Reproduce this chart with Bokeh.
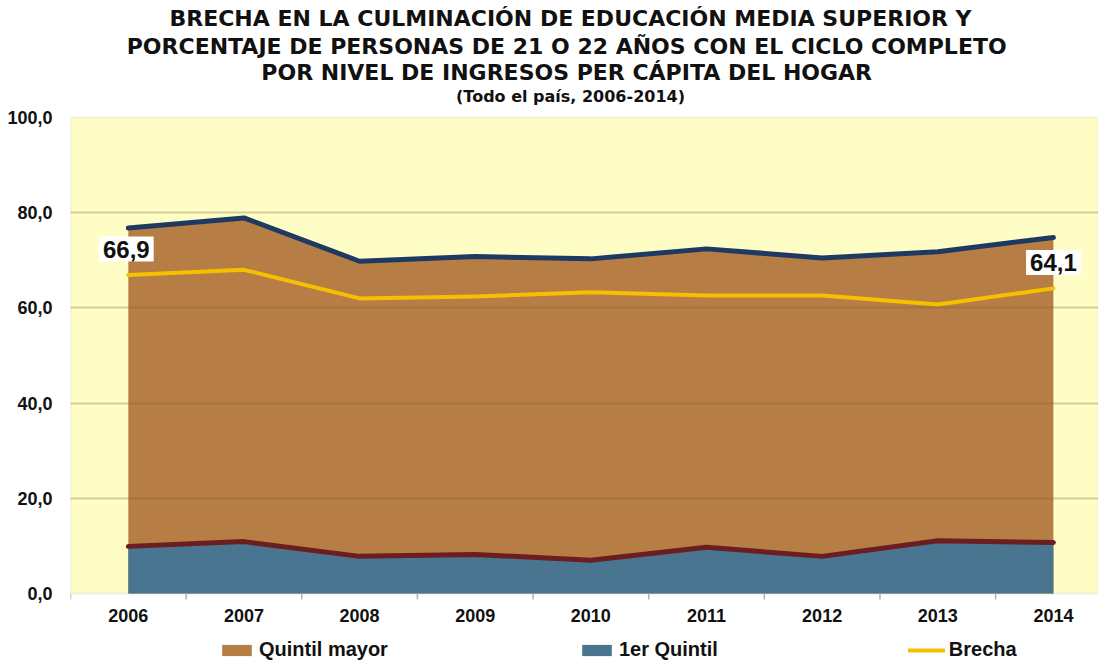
from bokeh.plotting import figure
from bokeh.models import (Range1d, FixedTicker, CustomJSTickFormatter,
                          Legend, LegendItem, Label, BoxAnnotation)
from bokeh.core.properties import value
from bokeh.embed import file_html
from bokeh.resources import INLINE

# ---- data ----
years = ["2006", "2007", "2008", "2009", "2010", "2011", "2012", "2013", "2014"]
quintil_mayor = [76.8, 78.9, 69.8, 70.8, 70.3, 72.4, 70.5, 71.8, 74.8]
primer_quintil = [9.9, 10.9, 7.8, 8.2, 7.0, 9.7, 7.8, 11.1, 10.7]
brecha = [66.9, 68.0, 62.0, 62.4, 63.3, 62.6, 62.6, 60.7, 64.1]
y_ticks = [0, 20, 40, 60, 80, 100]

title_lines = [
    "BRECHA EN LA CULMINACIÓN DE EDUCACIÓN MEDIA SUPERIOR Y",
    "PORCENTAJE DE PERSONAS DE  21 O 22 AÑOS CON EL CICLO COMPLETO",
    "POR  NIVEL DE INGRESOS PER CÁPITA DEL HOGAR",
]
subtitle = "(Todo el país, 2006-2014)"

xs = [i + 0.5 for i in range(len(years))]
bounds = list(range(len(years) + 1))

BROWN = "#B67D44"
BLUE = "#4A7590"
NAVY = "#1F3A62"
DARKRED = "#6B1D1F"
YELLOW = "#F5C000"
PLOT_BG = "#FFFDC6"

# the frame spans the whole figure height; the chart area is 0..100
FRAME_H = 663
PX_PER_UNIT = 476 / 100
Y_TOP = 100 + 117 / PX_PER_UNIT
Y_BOTTOM = -70 / PX_PER_UNIT
p = figure(frame_width=1028, frame_height=FRAME_H,
           x_range=Range1d(0, 8.89), y_range=Range1d(Y_BOTTOM, Y_TOP),
           x_axis_location=None,
           output_backend="svg", toolbar_location=None,
           min_border_left=70, min_border_right=0, min_border_top=0,
           min_border_bottom=0,
           background_fill_color="white", border_fill_color="white",
           outline_line_color=None)

p.add_layout(BoxAnnotation(bottom=0, top=100, fill_color=PLOT_BG, fill_alpha=1,
                           line_color="#cfcfc6", line_width=2, level="underlay"))

# titles (screen units, inside the frame above the chart area)
for line, y_px in zip(title_lines, [18, 46, 72]):
    p.add_layout(Label(x=500, y=FRAME_H - y_px, x_units="screen", y_units="screen",
                       text=line, text_align="center", text_baseline="middle",
                       text_font="DejaVu Sans", text_font_style="bold",
                       text_font_size="22px", text_color="#111111"))
p.add_layout(Label(x=500, y=FRAME_H - 96, x_units="screen", y_units="screen",
                   text=subtitle, text_align="center", text_baseline="middle",
                   text_font="DejaVu Sans", text_font_style="bold",
                   text_font_size="16px", text_color="#111111"))

# areas
r_mayor = p.varea(x=xs, y1=0, y2=quintil_mayor, fill_color=BROWN)
r_primer = p.varea(x=xs, y1=0, y2=primer_quintil, fill_color=BLUE)

# lines
p.line(xs, quintil_mayor, line_color=NAVY, line_width=5, line_join="round", line_cap="round")
p.line(xs, primer_quintil, line_color=DARKRED, line_width=5, line_join="round", line_cap="round")
r_brecha = p.line(xs, brecha, line_color=YELLOW, line_width=4, line_join="round", line_cap="round")

# value labels
for idx, xo in ((0, -2), (len(years) - 1, 0)):
    p.add_layout(Label(x=xs[idx], y=brecha[idx], x_offset=xo, y_offset=26,
                       text=f"{brecha[idx]:.1f}".replace(".", ","),
                       text_align="center", text_baseline="middle",
                       text_font="Liberation Sans", text_font_style="bold",
                       text_font_size="24px", text_color="#111111",
                       background_fill_color="white", padding=4))

# category axis: tick marks between categories and year labels
p.segment(x0=bounds, x1=bounds, y0=0, y1=-6 / PX_PER_UNIT,
          line_color="#b0b0b0", line_width=1.5)
p.text(x=xs, y=[0] * len(xs), text=years, y_offset=22,
       text_align="center", text_baseline="middle",
       text_font=value("Liberation Sans"), text_font_style="bold",
       text_font_size="18px", text_color="#111111")

# y axis
p.yaxis.ticker = FixedTicker(ticks=y_ticks)
p.yaxis.formatter = CustomJSTickFormatter(code="return tick.toFixed(1).replace('.', ',');")
p.yaxis.major_tick_out = 0
p.yaxis.major_tick_in = 0
p.yaxis.minor_tick_line_color = None
p.yaxis.major_label_standoff = 18
p.yaxis.axis_line_color = None
p.yaxis.major_label_text_font = "Liberation Sans"
p.yaxis.major_label_text_font_style = "bold"
p.yaxis.major_label_text_font_size = "18px"
p.yaxis.major_label_text_color = "#111111"

p.xgrid.grid_line_color = None
p.ygrid.ticker = FixedTicker(ticks=y_ticks[1:-1])
p.ygrid.grid_line_color = "#786428"
p.ygrid.grid_line_alpha = 0.3
p.ygrid.grid_line_width = 2
p.ygrid.level = "overlay"

# legend (uses the chart's own renderers)
legend = Legend(items=[LegendItem(label="Quintil mayor", renderers=[r_mayor]),
                       LegendItem(label="1er Quintil", renderers=[r_primer]),
                       LegendItem(label="Brecha", renderers=[r_brecha])],
                orientation="horizontal", location=(148, 2),
                glyph_width=37, glyph_height=14, label_standoff=4,
                spacing=190, padding=0, margin=0,
                label_text_font="Liberation Sans", label_text_font_style="bold",
                label_text_font_size="20px", label_text_color="#111111",
                border_line_color=None, background_fill_alpha=0)
p.add_layout(legend)

open("out.html", "w").write(file_html(p, INLINE))
